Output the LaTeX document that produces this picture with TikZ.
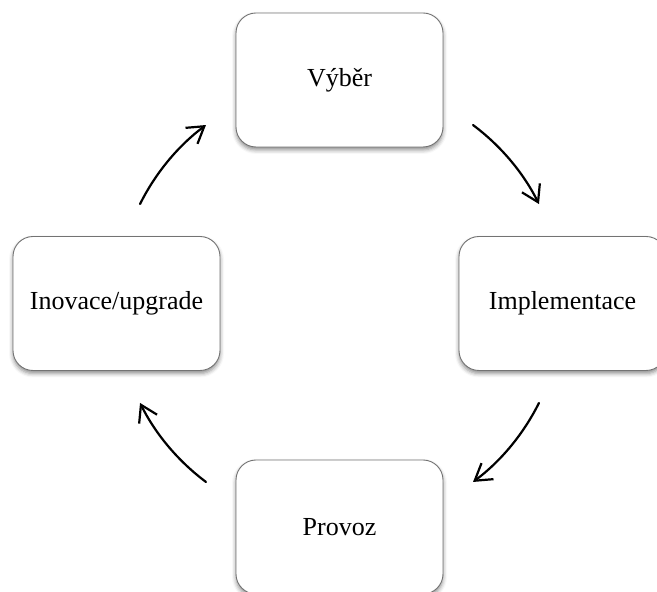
\documentclass[tikz,border=0pt]{standalone}
\usepackage{fontspec}
\setmainfont{Liberation Serif}
\usetikzlibrary{arrows.meta,shadows.blur}
\begin{document}
\begin{tikzpicture}[x=1pt,y=1pt,
  phase/.style={draw=black!55, line width=0.9pt, fill=white, rounded corners=20pt,
    minimum width=207pt, minimum height=134pt, inner sep=0pt,
    font=\fontsize{26}{30}\selectfont,
    blur shadow={shadow xshift=0pt, shadow yshift=-3pt, shadow blur radius=4pt, shadow opacity=45}},
  cyc/.style={line width=2.2pt, line cap=round,
    -{Straight Barb[length=16pt, width=20pt, line width=2.2pt]}}]
  \useasboundingbox (0,0) rectangle (657,592);
  \clip (0,0) rectangle (657,592);
  \coordinate (c) at (339.5,288.5);
  \node[phase] (vyber) at (339.5,512) {Výběr};
  \node[phase] (impl) at (562.5,288.5) {Implementace};
  \node[phase] (inov) at (116.5,288.5) {Inovace/upgrade};
  \node[phase] (provoz) at (339.5,65) {Provoz};
  % arcs of one circle around the centre, clockwise
  \draw[cyc] (c) ++(53.2:222.9) arc[start angle=53.2, end angle=26.5, radius=222.9];
  \draw[cyc] (c) ++(-26.5:222.9) arc[start angle=-26.5, end angle=-53.2, radius=222.9];
  \draw[cyc] (c) ++(-126.8:222.9) arc[start angle=-126.8, end angle=-153.5, radius=222.9];
  \draw[cyc] (c) ++(153.5:222.9) arc[start angle=153.5, end angle=126.8, radius=222.9];
\end{tikzpicture}
\end{document}
